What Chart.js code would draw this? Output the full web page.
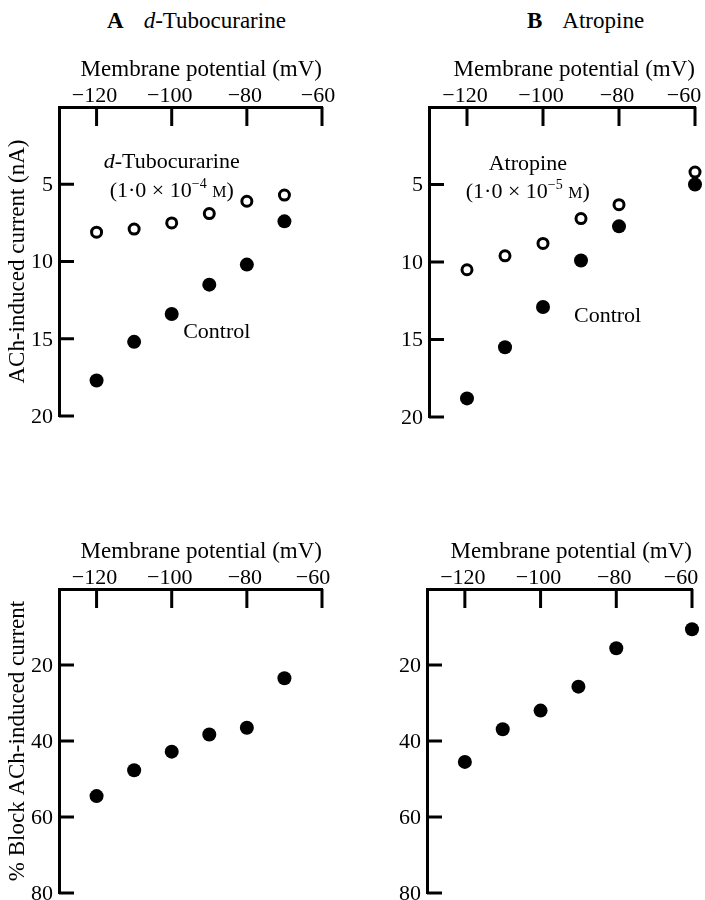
<!DOCTYPE html>
<html>
<head>
<meta charset="utf-8">
<script src="https://cdn.jsdelivr.net/npm/chart.js@4.4.1/dist/chart.umd.min.js"></script>
<style>
    body {
        margin: 0;
        width: 705px;
        height: 900px;
        position: relative;
        overflow: hidden;
        background: #fff;
        font-family: "Liberation Serif", serif;
        color: #000;
    }
    .panel {
        position: absolute;
    }
    .ptitle {
        position: absolute;
        top: 10px;
        font-size: 23px;
        line-height: 22px;
        white-space: nowrap;
    }
</style>
</head>
<body>
<div class="ptitle" style="left:107px"><b>A</b><span style="margin-left:20px"><i>d</i>-Tubocurarine</span></div>
<div class="ptitle" style="left:527px"><b>B</b><span style="margin-left:20px">Atropine</span></div>

<canvas id="panelA" class="panel" width="352" height="388" style="left:0;top:52px"></canvas>
<canvas id="panelB" class="panel" width="353" height="388" style="left:352px;top:52px"></canvas>
<canvas id="panelC" class="panel" width="352" height="366" style="left:0;top:534px"></canvas>
<canvas id="panelD" class="panel" width="353" height="366" style="left:352px;top:534px"></canvas>

<script>
// Data
const potentialA = [-120, -110, -100, -90, -80, -70];
const potentialB = [-120, -110, -100, -90, -80, -60];
const tubocurarineCurrent = [8.1, 7.9, 7.5, 6.9, 6.1, 5.7];
const tubocurarineControl = [17.7, 15.2, 13.4, 11.5, 10.2, 7.4];
const atropineCurrent = [10.5, 9.6, 8.8, 7.2, 6.3, 4.2];
const atropineControl = [18.8, 15.5, 12.9, 9.9, 7.7, 5.0];
const tubocurarineBlock = [54.5, 47.7, 42.8, 38.3, 36.5, 23.5];
const atropineBlock = [45.5, 36.9, 32.0, 25.7, 15.6, 10.6];

const potentialTicks = [-120, -100, -80, -60];
const currentTicks = [5, 10, 15, 20];
const blockTicks = [20, 40, 60, 80];

const SERIF = "'Liberation Serif', 'Times New Roman', serif";

function points(xs, ys) {
    return xs.map((x, i) => ({ x: x, y: ys[i] }));
}

function filledSet(xs, ys) {
    return {
        data: points(xs, ys),
        pointRadius: 7,
        pointBackgroundColor: "#000",
        pointBorderWidth: 0,
        showLine: false,
        clip: false,
    };
}

function openSet(xs, ys) {
    return {
        data: points(xs, ys),
        pointRadius: 5,
        pointBackgroundColor: "#fff",
        pointBorderColor: "#000",
        pointBorderWidth: 3,
        showLine: false,
        clip: false,
    };
}

// "(1·0 × 10^-n M)" with raised exponent and small-cap M
function drawConc(ctx, cx, cy, exp) {
    const big = "22px " + SERIF;
    const sup = "14px " + SERIF;
    const sc = "16px " + SERIF;
    const parts = [
        { t: "(1·0 × 10", f: big, dy: 0 },
        { t: "−" + exp, f: sup, dy: -9 },
        { t: " ", f: big, dy: 0 },
        { t: "M", f: sc, dy: 0 },
        { t: ")", f: big, dy: 0 },
    ];
    let total = 0;
    parts.forEach((p) => {
        ctx.font = p.f;
        p.w = ctx.measureText(p.t).width;
        total += p.w;
    });
    let x = cx - total / 2;
    ctx.textAlign = "left";
    ctx.textBaseline = "alphabetic";
    parts.forEach((p) => {
        ctx.font = p.f;
        ctx.fillText(p.t, x, cy + 7 + p.dy);
        x += p.w;
    });
}

// Inside tick marks, tick labels and in-plot notes
const axisMarks = {
    id: "axisMarks",
    afterDatasetsDraw(chart, args, opts) {
        const ctx = chart.ctx;
        const area = chart.chartArea;
        const xs = chart.scales.x;
        const ys = chart.scales.y;
        ctx.save();
        ctx.strokeStyle = "#000";
        ctx.fillStyle = "#000";
        ctx.lineWidth = 3;
        ctx.lineCap = "butt";

        opts.xTicks.forEach((v, i) => {
            const px = xs.getPixelForValue(v);
            ctx.beginPath();
            ctx.moveTo(px, area.top);
            ctx.lineTo(px, area.top + 19);
            ctx.stroke();
            const shift = i === opts.xTicks.length - 1 ? opts.lastShift : -2;
            ctx.font = "22px " + SERIF;
            ctx.textAlign = "center";
            ctx.textBaseline = "alphabetic";
            ctx.fillText("−" + Math.abs(v), px + shift, area.top - 5);
        });

        opts.yTicks.forEach((v) => {
            const py = ys.getPixelForValue(v);
            ctx.beginPath();
            ctx.moveTo(area.left, py);
            ctx.lineTo(area.left + 15, py);
            ctx.stroke();
            ctx.font = "22px " + SERIF;
            ctx.textAlign = "right";
            ctx.textBaseline = "middle";
            ctx.fillText(String(v), area.left - 6, py + 1);
        });

        (opts.notes || []).forEach((n) => {
            const px = xs.getPixelForValue(n.x);
            const py = ys.getPixelForValue(n.y);
            if (n.exp) {
                drawConc(ctx, px, py, n.exp);
            } else {
                ctx.font = "22px " + SERIF;
                ctx.textAlign = "center";
                ctx.textBaseline = "middle";
                if (n.italic) {
                    ctx.font = "italic 22px " + SERIF;
                    const w1 = ctx.measureText(n.italic).width;
                    ctx.font = "22px " + SERIF;
                    const w2 = ctx.measureText(n.text).width;
                    const x0 = px - (w1 + w2) / 2;
                    ctx.textAlign = "left";
                    ctx.font = "italic 22px " + SERIF;
                    ctx.fillText(n.italic, x0, py);
                    ctx.font = "22px " + SERIF;
                    ctx.fillText(n.text, x0 + w1, py);
                } else {
                    ctx.fillText(n.text, px, py);
                }
            }
        });
        ctx.restore();
    },
};

function makePanel(id, cfg) {
    return new Chart(document.getElementById(id), {
        type: "scatter",
        data: { datasets: cfg.datasets },
        options: {
            responsive: false,
            animation: false,
            events: [],
            layout: {
                padding: { left: 0, top: 0, right: cfg.padRight, bottom: cfg.padBottom },
            },
            plugins: {
                legend: { display: false },
                tooltip: { enabled: false },
                axisMarks: {
                    xTicks: potentialTicks,
                    yTicks: cfg.yTicks,
                    lastShift: cfg.lastShift,
                    notes: cfg.notes,
                },
            },
            scales: {
                x: {
                    type: "linear",
                    position: "top",
                    min: -130,
                    max: -60,
                    grid: { display: false, drawTicks: false },
                    border: { display: true, color: "#000", width: 3 },
                    ticks: { display: false },
                    title: {
                        display: true,
                        text: "Membrane potential (mV)",
                        align: "end",
                        color: "#000",
                        font: { family: SERIF, size: 23, lineHeight: 1.2 },
                        padding: { top: 4, bottom: 0 },
                    },
                    afterFit: (s) => {
                        s.height = 55;
                        s.paddingLeft = 0;
                        s.paddingRight = 0;
                    },
                },
                y: {
                    type: "linear",
                    reverse: true,
                    min: 0,
                    max: cfg.yMax,
                    grid: { display: false, drawTicks: false },
                    border: { display: true, color: "#000", width: 3 },
                    ticks: { display: false },
                    title: {
                        display: !!cfg.yTitle,
                        text: cfg.yTitle || "",
                        color: "#000",
                        font: { family: SERIF, size: 23, lineHeight: 1.2 },
                        padding: { top: 4, bottom: 0 },
                    },
                    afterFit: (s) => {
                        s.width = cfg.yWidth;
                        s.paddingTop = 0;
                        s.paddingBottom = 0;
                    },
                },
            },
        },
        plugins: [axisMarks],
    });
}

// A: d-Tubocurarine currents
makePanel("panelA", {
    datasets: [
        filledSet(potentialA, tubocurarineControl),
        openSet(potentialA, tubocurarineCurrent),
    ],
    yMax: 20,
    yTicks: currentTicks,
    yTitle: "ACh-induced current (nA)",
    yWidth: 59,
    padRight: 30,
    padBottom: 24,
    lastShift: -4,
    notes: [
        { italic: "d", text: "-Tubocurarine", x: -100, y: 3.6 },
        { exp: "4", x: -100, y: 5.4 },
        { text: "Control", x: -88, y: 14.6 },
    ],
});

// B: Atropine currents
makePanel("panelB", {
    datasets: [
        filledSet(potentialB, atropineControl),
        openSet(potentialB, atropineCurrent),
    ],
    yMax: 20,
    yTicks: currentTicks,
    yWidth: 77,
    padRight: 10,
    padBottom: 23,
    lastShift: -11,
    notes: [
        { text: "Atropine", x: -104, y: 3.7 },
        { exp: "5", x: -104, y: 5.4 },
        { text: "Control", x: -83, y: 13.5 },
    ],
});

// C: % block by d-Tubocurarine
makePanel("panelC", {
    datasets: [filledSet(potentialA, tubocurarineBlock)],
    yMax: 80,
    yTicks: blockTicks,
    yTitle: "% Block ACh-induced current",
    yWidth: 59,
    padRight: 30,
    padBottom: 4,
    lastShift: -9,
});

// D: % block by Atropine
makePanel("panelD", {
    datasets: [filledSet(potentialB, atropineBlock)],
    yMax: 80,
    yTicks: blockTicks,
    yWidth: 75,
    padRight: 13,
    padBottom: 3,
    lastShift: -11,
});
</script>
</body>
</html>
